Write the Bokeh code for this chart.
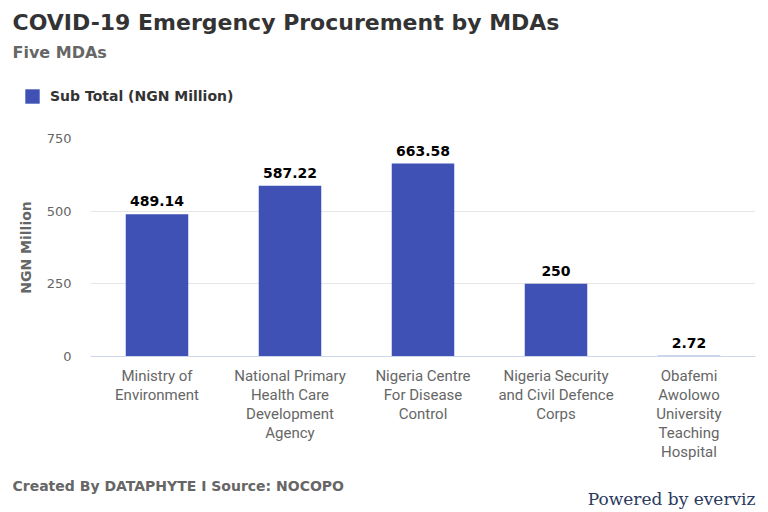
from bokeh.plotting import figure
from bokeh.layouts import column
from bokeh.models import (ColumnDataSource, FixedTicker, LabelSet, LinearAxis, Range1d,
                          Label, Legend, LegendItem)
from bokeh.core.properties import value
from bokeh.embed import file_html
from bokeh.resources import INLINE

categories = ["Ministry of Environment", "National Primary Health Care Development Agency",
              "Nigeria Centre For Disease Control", "Nigeria Security and Civil Defence Corps",
              "Obafemi Awolowo University Teaching Hospital"]
tick_lines = [["Ministry of", "Environment"],
              ["National Primary", "Health Care", "Development", "Agency"],
              ["Nigeria Centre", "For Disease", "Control"],
              ["Nigeria Security", "and Civil Defence", "Corps"],
              ["Obafemi", "Awolowo", "University", "Teaching", "Hospital"]]
values = [489.14, 587.22, 663.58, 250, 2.72]
value_labels = ["489.14", "587.22", "663.58", "250", "2.72"]
y_ticks = [0, 250, 500, 750]
series_name = "Sub Total (NGN Million)"
title_text = "COVID-19 Emergency Procurement by MDAs"
subtitle_text = "Five MDAs"
credit_text = "Created By DATAPHYTE I Source: NOCOPO"
brand_text = "Powered by everviz"

W = 768
TOP_H, MAIN_H, BOT_H = 130, 333, 49
BAR_COLOR = "#3f51b5"


def blank_fig(h):
    f = figure(width=W, height=h, x_range=Range1d(0, W), y_range=Range1d(h, 0),
               x_axis_location=None, y_axis_location=None, output_backend="svg",
               toolbar_location=None, min_border=0, frame_align=False)
    f.outline_line_color = None
    f.grid.grid_line_color = None
    return f


def add_text(f, x, y, text, size, color, bold=True, font="DejaVu Sans", align="left"):
    f.add_layout(Label(x=x, y=y, text=text, text_font=font, text_font_size=size,
                       text_color=color, text_font_style="bold" if bold else "normal",
                       text_align=align, text_baseline="middle"))


# ---- header: title, subtitle, legend
top = blank_fig(TOP_H)
add_text(top, 12, 22, title_text, "22px", "#333333")
add_text(top, 12, 52, subtitle_text, "16px", "#666666")
# zero-height swatch renderer, only used to give the legend its glyph
swatch = top.vbar(x=[0], top=[0], bottom=[0], width=0, color=BAR_COLOR, line_color=None)
legend = Legend(items=[LegendItem(label=series_name, renderers=[swatch])],
                location=(23, TOP_H - 105), orientation="horizontal", margin=0, padding=0,
                glyph_width=18, glyph_height=18, label_standoff=9,
                label_text_font="DejaVu Sans", label_text_font_style="bold",
                label_text_font_size="14px", label_text_color="#333333",
                border_line_color=None, background_fill_alpha=0)
top.add_layout(legend)

# ---- main chart
xpos = list(range(len(categories)))
src = ColumnDataSource(dict(x=xpos, cat=categories, val=values, lab=value_labels))

p = figure(width=W, height=MAIN_H, x_range=Range1d(-0.5, len(categories) - 0.5),
           y_range=(0, 750), output_backend="svg", toolbar_location=None,
           min_border_left=90, min_border_right=13, min_border_top=8, min_border_bottom=106)
p.outline_line_color = None

p.vbar(x="x", top="val", width=0.47, source=src, color=BAR_COLOR, line_color=None)
p.add_layout(LabelSet(x="x", y="val", text="lab", source=src, text_align="center",
                      text_baseline="middle", y_offset=13, text_font=value("DejaVu Sans"),
                      text_font_style="bold", text_font_size="14px", text_color="#000000"))

p.xgrid.grid_line_color = None
p.ygrid.grid_line_color = "#e6e6e6"
p.yaxis.ticker = FixedTicker(ticks=y_ticks)
p.yaxis.axis_line_color = None
p.yaxis.major_tick_line_color = None
p.yaxis.minor_tick_line_color = None
p.yaxis.major_label_text_font = "DejaVu Sans"
p.yaxis.major_label_text_font_size = "13px"
p.yaxis.major_label_text_color = "#666666"
p.yaxis.major_label_standoff = 13
p.yaxis.axis_label = "NGN Million"
p.yaxis.axis_label_text_font = "DejaVu Sans"
p.yaxis.axis_label_text_font_style = "bold"
p.yaxis.axis_label_text_font_size = "14px"
p.yaxis.axis_label_text_color = "#666666"
p.yaxis.axis_label_standoff = 10

# multi-line category labels: one axis per text line
n_lines = max(len(l) for l in tick_lines)
first = p.xaxis[0]
for j in range(n_lines):
    ax = first if j == 0 else LinearAxis()
    ax.ticker = FixedTicker(ticks=xpos)
    ax.major_label_overrides = {i: (l[j] if j < len(l) else " ") for i, l in zip(xpos, tick_lines)}
    ax.major_tick_line_color = None
    ax.minor_tick_line_color = None
    ax.major_tick_out = 0
    ax.major_tick_in = 0
    ax.major_label_standoff = 10 if j == 0 else -2
    ax.major_label_text_font = "Roboto"
    ax.major_label_text_font_size = "15px"
    ax.major_label_text_color = "#666666"
    ax.axis_line_color = "#ccd6eb" if j == 0 else None
    if j > 0:
        p.add_layout(ax, "below")

# ---- footer: credits
bot = blank_fig(BOT_H)
add_text(bot, 12, 22, credit_text, "14px", "#666666")
add_text(bot, 755, 35, brand_text, "17px", "#2a3a5e", bold=False, font="DejaVu Serif",
         align="right")

layout = column(top, p, bot, spacing=0)
open("out.html", "w").write(file_html(layout, INLINE))
